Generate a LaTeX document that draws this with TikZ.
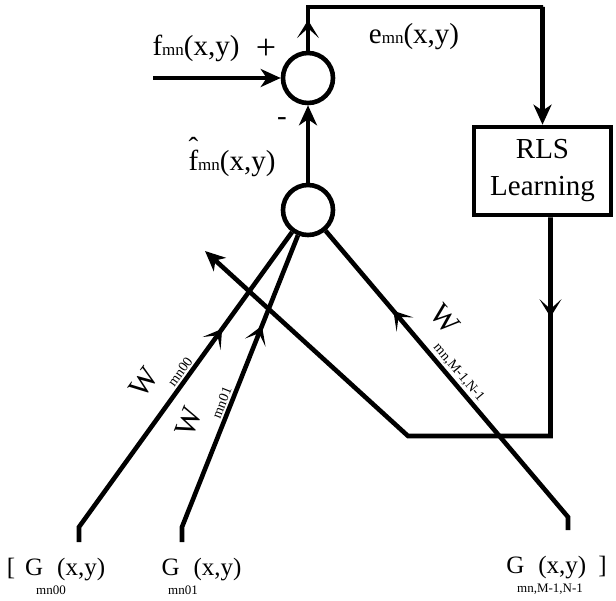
\documentclass[tikz,border=0pt]{standalone}
\usepackage{fontspec}
\setmainfont{Liberation Serif}
\usetikzlibrary{arrows.meta,decorations.markings}

\newcommand{\smallmn}[1]{{\fontsize{8.5}{9}\selectfont #1}}
\newcommand{\lowsub}[1]{\raisebox{-0.6em}{\fontsize{7}{8}\selectfont #1}}
\newcommand{\hatf}{\makebox[0pt][l]{\raisebox{0.42em}{\char"02C6}}f}

\begin{document}
\begin{tikzpicture}[
    x=0.5pt, y=-0.5pt,
    font=\fontsize{14.5}{17}\selectfont,
    wire/.style={line width=2.3pt},
    junction/.style={draw, circle, line width=2.3pt, minimum size=25pt, inner sep=0pt},
    learnbox/.style={draw, rectangle, line width=2.3pt, minimum width=68.5pt, minimum height=44pt, align=center, inner sep=0pt, font=\fontsize{14.5}{18.5}\selectfont},
    arrow/.style={wire, -{Stealth[length=10pt, width=9pt, inset=3pt]}},
    midarrow/.style={postaction={decorate, decoration={markings, mark=at position #1 with {\arrow{Stealth[length=9pt, width=11pt, inset=5pt]}}}}},
    wlabel/.style={sloped, above, inner sep=1pt, font=\fontsize{15}{17}\selectfont},
    glabel/.style={inner sep=0pt, font=\fontsize{12.5}{14}\selectfont},
    gsub/.style={inner sep=0pt, font=\fontsize{6.5}{7}\selectfont}
]
\useasboundingbox (0,0) rectangle (616,600);

\node[junction] (sum) at (308,78) {};
\node[junction] (prod) at (308,210) {};
\node[learnbox] (rls) at (542.5,171) {RLS\\Learning};

\coordinate (fin) at (153,78);
\coordinate (etop) at (543,7);
\coordinate (fbcorner) at (408,436);
\coordinate (fbtip) at (205,251);
\coordinate (e0) at (79,542);
\coordinate (b0) at (79,527);
\coordinate (e1) at (182,542);
\coordinate (b1) at (182,527);
\coordinate (e2) at (568,530);
\coordinate (b2) at (568,517);

\node (flabel) at (196,48) {f\smallmn{mn}(x,y)};
\node[font=\fontsize{18}{20}\selectfont] (plus) at (266,49) {+};
\node (minus) at (282,122) {-};
\node (fhat) at (232,157) {\hatf\smallmn{mn}(x,y)};
\node (elabel) at (414,37) {e\smallmn{mn}(x,y)};

\node[glabel] (g0) at (56,570) {[\hspace{5pt}G\hspace{7pt}(x,y)};
\node[glabel] (g1) at (201.5,570) {G\hspace{7pt}(x,y)};
\node[glabel] (g2) at (556.5,568) {G\hspace{7pt}(x,y)\hspace{6pt}]};
\node[gsub] (s0) at (51,590) {mn00};
\node[gsub] (s1) at (183,590) {mn01};
\node[gsub] (s2) at (550,589) {mn,M-1,N-1};

\draw[arrow] (fin) -- (sum);
\draw[arrow] (prod) -- (sum);
\draw[arrow, midarrow=0.077] (sum.north) |- (etop) -| (rls.north);
\draw[arrow, midarrow=0.157] ([xshift=4pt]rls.south) |- (fbcorner) -- (fbtip);
\draw[wire, midarrow=0.685] (e0) -- (b0) -- node[wlabel, pos=0.47] {W\lowsub{mn00}} (prod);
\draw[wire, midarrow=0.704] (e1) -- (b1) -- node[wlabel, pos=0.37] {W\lowsub{mn01}} (prod);
\draw[wire, midarrow=0.73] (e2) -- (b2) -- node[wlabel, pos=0.52] {W\lowsub{mn,M-1,N-1}} (prod);
\end{tikzpicture}
\end{document}
